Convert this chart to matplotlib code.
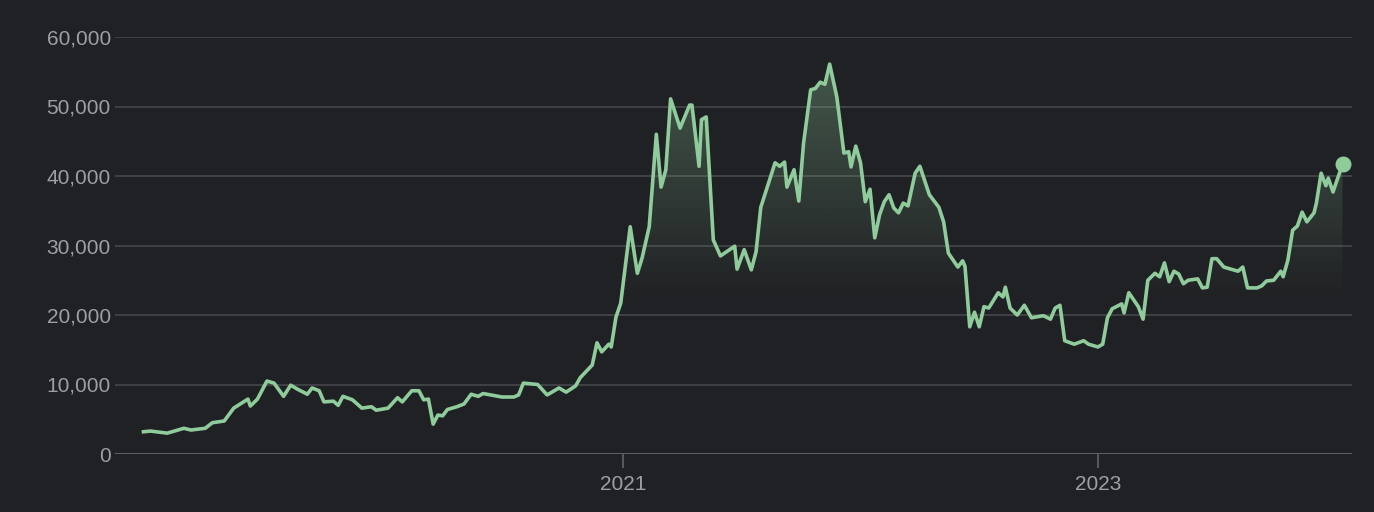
import numpy as np
import matplotlib.pyplot as plt
from matplotlib.patches import Polygon

# fractional year, price
years = [2018.98, 2019.01, 2019.08, 2019.15, 2019.18, 2019.24, 2019.27, 2019.32, 2019.36, 2019.42,
         2019.43, 2019.46, 2019.50, 2019.53, 2019.57, 2019.60, 2019.63, 2019.67, 2019.69, 2019.72,
         2019.74, 2019.78, 2019.80, 2019.82, 2019.86, 2019.90, 2019.94, 2019.96, 2020.01, 2020.05,
         2020.07, 2020.11, 2020.14, 2020.16, 2020.18, 2020.20, 2020.22, 2020.24, 2020.26, 2020.30,
         2020.33, 2020.36, 2020.39, 2020.41, 2020.49, 2020.54, 2020.56, 2020.58, 2020.64, 2020.68,
         2020.73, 2020.76, 2020.80, 2020.82, 2020.87, 2020.89, 2020.91, 2020.94, 2020.95, 2020.97,
         2020.99, 2021.03, 2021.06, 2021.08, 2021.11, 2021.14, 2021.16, 2021.18, 2021.20, 2021.24,
         2021.28, 2021.29, 2021.32, 2021.33, 2021.35, 2021.38, 2021.41, 2021.44, 2021.47, 2021.48,
         2021.51, 2021.54, 2021.56, 2021.58, 2021.61, 2021.64, 2021.66, 2021.68, 2021.69, 2021.72,
         2021.74, 2021.76, 2021.79, 2021.81, 2021.83, 2021.85, 2021.87, 2021.90, 2021.93, 2021.95,
         2021.96, 2021.98, 2022.00, 2022.02, 2022.04, 2022.06, 2022.08, 2022.10, 2022.12, 2022.14,
         2022.16, 2022.18, 2022.20, 2022.23, 2022.25, 2022.29, 2022.33, 2022.35, 2022.37, 2022.41,
         2022.43, 2022.44, 2022.46, 2022.48, 2022.50, 2022.52, 2022.54, 2022.58, 2022.60, 2022.61,
         2022.63, 2022.66, 2022.69, 2022.72, 2022.77, 2022.80, 2022.82, 2022.84, 2022.86, 2022.90,
         2022.94, 2022.96, 2023.00, 2023.02, 2023.04, 2023.06, 2023.10, 2023.11, 2023.13, 2023.17,
         2023.19, 2023.21, 2023.24, 2023.26, 2023.28, 2023.30, 2023.32, 2023.34, 2023.36, 2023.38,
         2023.42, 2023.44, 2023.46, 2023.48, 2023.50, 2023.53, 2023.59, 2023.61, 2023.63, 2023.67,
         2023.69, 2023.71, 2023.74, 2023.77, 2023.78, 2023.80, 2023.82, 2023.84, 2023.86, 2023.88,
         2023.91, 2023.92, 2023.94, 2023.96, 2023.97, 2023.99, 2024.03]
prices = [3200, 3300, 3000, 3700, 3450, 3700, 4500, 4750, 6600, 7900,
          6900, 7900, 10500, 10200, 8300, 9900, 9300, 8600, 9500, 9100,
          7500, 7600, 7000, 8300, 7800, 6600, 6800, 6300, 6600, 8100,
          7500, 9100, 9100, 7800, 7900, 4300, 5600, 5500, 6400, 6800,
          7200, 8600, 8300, 8700, 8200, 8200, 8500, 10200, 10000, 8500,
          9500, 8900, 9800, 11000, 12800, 16000, 14700, 15800, 15400, 19700,
          21700, 32700, 26000, 28200, 32700, 46000, 38400, 40900, 51100, 46900,
          50200, 50200, 41400, 48100, 48500, 30800, 28500, 29200, 29900, 26600,
          29400, 26500, 29100, 35500, 38700, 41900, 41400, 42000, 38400, 40900,
          36400, 44700, 52400, 52600, 53500, 53200, 56100, 51400, 43300, 43500,
          41300, 44300, 41900, 36300, 38100, 31100, 34400, 36300, 37300, 35400,
          34700, 36100, 35700, 40400, 41400, 37300, 35500, 33400, 28900, 26900,
          27800, 27000, 18300, 20400, 18300, 21200, 21000, 23200, 22600, 24000,
          21000, 20000, 21400, 19600, 19900, 19400, 21000, 21400, 16300, 15800,
          16300, 15800, 15400, 15800, 19600, 20900, 21600, 20300, 23200, 21200,
          19400, 25000, 26000, 25500, 27500, 24800, 26300, 25900, 24500, 25000,
          25200, 23900, 24000, 28100, 28100, 26900, 26300, 26900, 23900, 23900,
          24200, 24900, 25000, 26300, 25500, 27900, 32200, 32800, 34800, 33400,
          34700, 36100, 40400, 38600, 39700, 37700, 41700]
y_ticks = [0, 10000, 20000, 30000, 40000, 50000, 60000]
x_ticks = [2021, 2023]

bg = '#202124'
green = '#8fcb9b'
grey = '#9aa0a6'
plt.rcParams['font.family'] = ['Liberation Sans', 'DejaVu Sans']

fig = plt.figure(figsize=(13.74, 5.12), dpi=100, facecolor=bg)
ax = fig.add_axes([115 / 1374, 1 - 454 / 512, (1352 - 115) / 1374, (454 - 37) / 512])
ax.set_facecolor(bg)
ax.set_xlim(2018.86, 2024.07)
ax.set_ylim(0, 60000)

# gradient fill under the line, fading out around 22k
x = np.array(years)
y = np.array(prices)
lv = np.linspace(0, y.max(), 256)
alpha = np.clip((lv - 22000) / (y.max() - 22000), 0, 1) * 0.32
img = np.zeros((256, 1, 4))
img[..., 0], img[..., 1], img[..., 2] = 0x8f / 255, 0xcb / 255, 0x9b / 255
img[:, 0, 3] = alpha
im = ax.imshow(img, extent=[x[0], x[-1], 0, y.max()], origin='lower', aspect='auto', zorder=1)
poly = Polygon(np.column_stack([np.r_[x, x[-1], x[0]], np.r_[y, 0, 0]]), closed=True,
               facecolor='none', edgecolor='none')
ax.add_patch(poly)
im.set_clip_path(poly)

ax.plot(x, y, color=green, lw=2.6, zorder=3)
ax.plot(x[-1], y[-1], 'o', color=green, ms=10.5, zorder=4)

ax.set_yticks(y_ticks)
ax.set_yticklabels([f'{v:,}' for v in y_ticks])
ax.set_xticks(x_ticks)
ax.set_xticklabels([str(v) for v in x_ticks])
ax.grid(axis='y', color='#46474b', lw=1.2)
ax.set_axisbelow(True)
for s in ax.spines.values():
    s.set_visible(False)
ax.tick_params(axis='y', length=0, labelsize=15, labelcolor=grey, pad=3)
ax.tick_params(axis='x', length=10, width=1.2, color='#5f6368', labelsize=15, labelcolor=grey, pad=5)
ax.axhline(0, color='#5f6368', lw=1.3, zorder=2)

fig.savefig('out.png', dpi=100, facecolor=bg)
